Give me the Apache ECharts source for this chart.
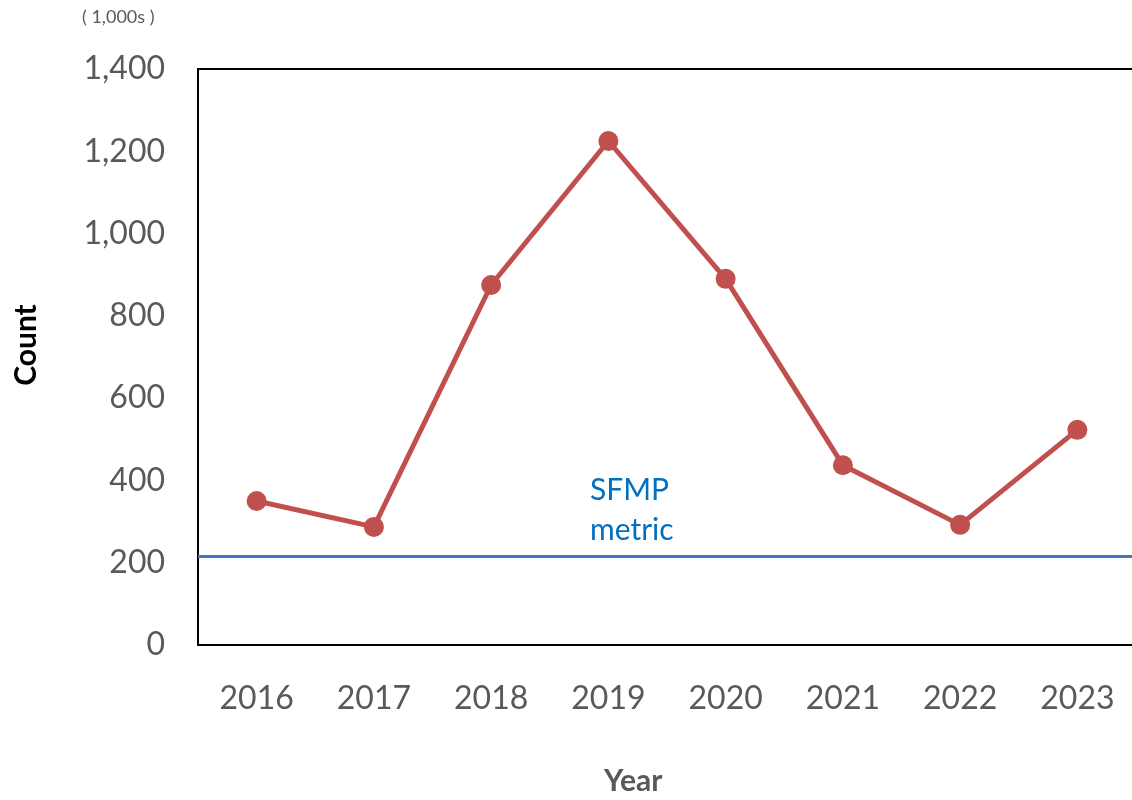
<!DOCTYPE html>
<html>
<head>
<meta charset="utf-8">
<script src="https://cdn.jsdelivr.net/npm/echarts@6/dist/echarts.min.js"></script>
<style>
  html, body { margin: 0; padding: 0; overflow: hidden; background: #fff; }
  #chart { width: 1136px; height: 800px; }
</style>
</head>
<body>
<div id="chart"></div>
<script>
const years = ["2016", "2017", "2018", "2019", "2020", "2021", "2022", "2023"];
const counts = [350, 287, 875, 1225, 890, 437, 292, 523];
const sfmpMetric = 216;
const yTicks = [0, 200, 400, 600, 800, 1000, 1200, 1400];

const chart = echarts.init(document.getElementById("chart"));

const font = "Lato, 'Open Sans', sans-serif";

const option = {
  animation: false,
  textStyle: { fontFamily: font },
  grid: {
    left: 198,
    right: 0,
    top: 69,
    bottom: 155,
    show: true,
    borderColor: "#000",
    borderWidth: 2
  },
  xAxis: {
    type: "category",
    data: years,
    axisLine: { show: false },
    axisTick: { show: false },
    axisLabel: { fontSize: 32, color: "#595959", margin: 38 }
  },
  yAxis: {
    type: "value",
    min: yTicks[0],
    max: yTicks[yTicks.length - 1],
    interval: 200,
    splitLine: { show: false },
    axisLine: { show: false },
    axisTick: { show: false },
    axisLabel: {
      fontSize: 32,
      color: "#595959",
      margin: 33,
      formatter: v => v.toLocaleString("en-US")
    }
  },
  graphic: [
    {
      type: "text",
      left: 82,
      top: 8,
      style: { text: "( 1,000s )", fontSize: 18, fill: "#595959", fontFamily: font }
    },
    {
      type: "text",
      x: 26,
      y: 345,
      rotation: Math.PI / 2,
      style: {
        text: "Count", fontSize: 30, fontWeight: "bold", fill: "#000",
        fontFamily: font, align: "center", verticalAlign: "middle"
      }
    },
    {
      type: "text",
      left: 604,
      top: 766,
      style: { text: "Year", fontSize: 30, fontWeight: "bold", fill: "#595959", fontFamily: font }
    },
    {
      type: "text",
      left: 590,
      top: 470,
      style: { text: "SFMP\nmetric", fontSize: 30, lineHeight: 40, fill: "#0070C0", fontFamily: font }
    }
  ],
  series: [
    {
      type: "line",
      data: counts,
      symbol: "circle",
      symbolSize: 20,
      lineStyle: { color: "#C0504D", width: 5 },
      itemStyle: { color: "#C0504D" },
      z: 3,
      markLine: {
        silent: true,
        symbol: "none",
        label: { show: false },
        lineStyle: { color: "#4472C4", width: 3, type: "solid" },
        data: [{ yAxis: sfmpMetric }]
      }
    }
  ]
};

chart.setOption(option);
</script>
</body>
</html>
